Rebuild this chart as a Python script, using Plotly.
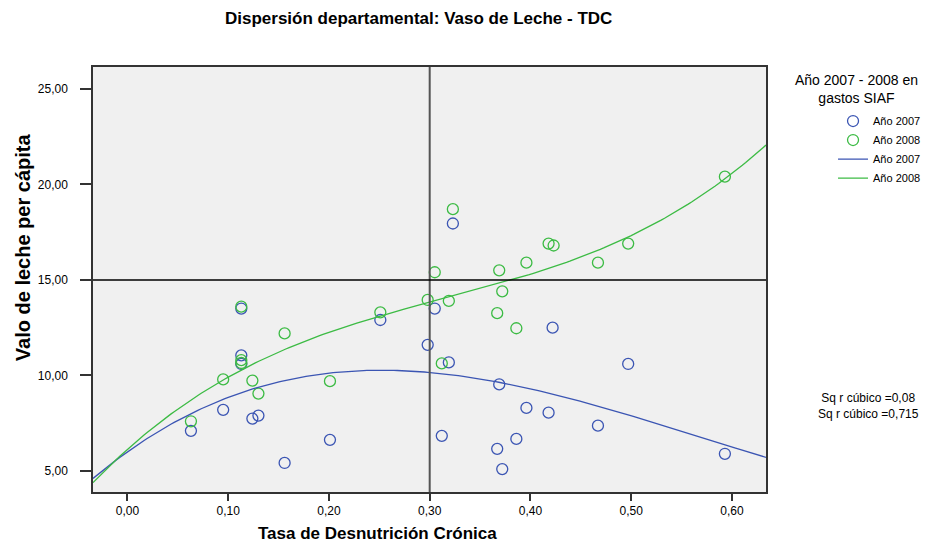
import numpy as np
import plotly.graph_objs as go

# Tasa de Desnutrición Crónica (same departments both years)
tdc = [0.063, 0.095, 0.113, 0.113, 0.113, 0.124, 0.130, 0.156, 0.201, 0.251,
       0.298, 0.305, 0.312, 0.319, 0.323, 0.367, 0.369, 0.372, 0.386, 0.396,
       0.418, 0.422, 0.467, 0.497, 0.593]
tdc_2008 = [0.063, 0.095, 0.113, 0.113, 0.113, 0.124, 0.130, 0.156, 0.201, 0.251,
            0.298, 0.305, 0.312, 0.319, 0.323, 0.367, 0.369, 0.372, 0.386, 0.396,
            0.418, 0.423, 0.467, 0.497, 0.593]

# Vaso de leche per cápita
vaso_2007 = [7.10, 8.20, 13.50, 11.05, 10.60, 7.74, 7.90, 5.42, 6.63, 12.90,
             11.60, 13.50, 6.84, 10.68, 17.95, 6.16, 9.53, 5.10, 6.68, 8.30,
             8.05, 12.50, 7.37, 10.60, 5.90]
vaso_2008 = [7.60, 9.79, 13.60, 10.80, 10.65, 9.73, 9.05, 12.20, 9.70, 13.30,
             13.95, 15.40, 10.63, 13.90, 18.70, 13.26, 15.50, 14.40, 12.47, 15.90,
             16.90, 16.80, 15.90, 16.90, 20.40]

x_range = [-0.0342, 0.6338]
y_range = [3.90, 26.14]

blue = '#3b55b3'
green = '#3cbb44'
font = 'Liberation Sans'

# cubic fits, as in the original (Sq r cúbico)
xs = np.linspace(x_range[0], x_range[1], 200)
fit_2007 = np.polyval(np.polyfit(tdc, vaso_2007, 3), xs)
fit_2008 = np.polyval(np.polyfit(tdc_2008, vaso_2008, 3), xs)

fig = go.Figure()

fig.add_trace(go.Scatter(x=tdc, y=vaso_2007, mode='markers', name='Año 2007',
                         marker=dict(symbol='circle-open', size=11, color=blue,
                                     line=dict(width=1.3, color=blue))))
fig.add_trace(go.Scatter(x=tdc_2008, y=vaso_2008, mode='markers', name='Año 2008',
                         marker=dict(symbol='circle-open', size=11, color=green,
                                     line=dict(width=1.3, color=green))))
fig.add_trace(go.Scatter(x=xs, y=fit_2007, mode='lines', name='Año 2007',
                         line=dict(color=blue, width=1.3)))
fig.add_trace(go.Scatter(x=xs, y=fit_2008, mode='lines', name='Año 2008',
                         line=dict(color=green, width=1.3)))

# reference lines
fig.add_shape(type='line', xref='x', yref='paper', x0=0.30, x1=0.30, y0=0, y1=1,
              line=dict(color='#555555', width=2))
fig.add_shape(type='line', xref='paper', yref='y', x0=0, x1=1, y0=15, y1=15,
              line=dict(color='black', width=1.5))

# the page body adds an 8px offset, so the margins are shifted to compensate
fig.update_layout(
    width=935, height=543,
    margin=dict(l=85, r=177, t=59, b=59),
    paper_bgcolor='white',
    plot_bgcolor='#f0f0f0',
    separators=',.',
    font=dict(family=font, size=12, color='black'),
    showlegend=True,
    legend=dict(x=1.0996, y=0.907, xanchor='left', yanchor='top',
                font=dict(size=11, family=font), bgcolor='rgba(0,0,0,0)',
                tracegroupgap=0, itemwidth=30),
    xaxis=dict(range=x_range, tickvals=[0, 0.1, 0.2, 0.3, 0.4, 0.5, 0.6],
               tickformat='.2f', ticks='outside', ticklen=7, tickwidth=1.5,
               tickcolor='#333333', showgrid=False, zeroline=False,
               showline=True, linecolor='#333333', linewidth=1.5, mirror=True,
               tickfont=dict(size=12)),
    yaxis=dict(range=y_range, tickvals=[5, 10, 15, 20, 25],
               tickformat='.2f', ticks='outside', ticklen=11, tickwidth=1.5,
               tickcolor='#333333', showgrid=False, zeroline=False,
               showline=True, linecolor='#333333', linewidth=1.5, mirror=True,
               tickfont=dict(size=12), ticklabelstandoff=10),
)

fig.add_annotation(text='<b>Dispersión departamental: Vaso de Leche - TDC</b>',
                   xref='paper', yref='paper', x=0.483, y=1.115, showarrow=False,
                   xanchor='center', yanchor='middle',
                   font=dict(size=17, family=font))
fig.add_annotation(text='<b>Tasa de Desnutrición Crónica</b>',
                   xref='paper', yref='paper', x=0.422, y=-0.098, showarrow=False,
                   xanchor='center', yanchor='middle',
                   font=dict(size=17, family=font))
fig.add_annotation(text='<b>Valo de leche per cápita</b>', textangle=-90,
                   xref='paper', yref='paper', x=-0.104, y=0.576, showarrow=False,
                   xanchor='center', yanchor='middle',
                   font=dict(size=20, family=font))
fig.add_annotation(text='Año 2007 - 2008 en<br>gastos SIAF',
                   xref='paper', yref='paper', x=1.135, y=0.949, showarrow=False,
                   xanchor='center', yanchor='middle',
                   font=dict(size=14, family=font), align='center')
fig.add_annotation(text='Sq r cúbico =0,08<br>Sq r cúbico =0,715',
                   xref='paper', yref='paper', x=1.152, y=0.203, showarrow=False,
                   xanchor='center', yanchor='middle',
                   font=dict(size=12, family=font), align='center')

fig.write_html("out.html")
